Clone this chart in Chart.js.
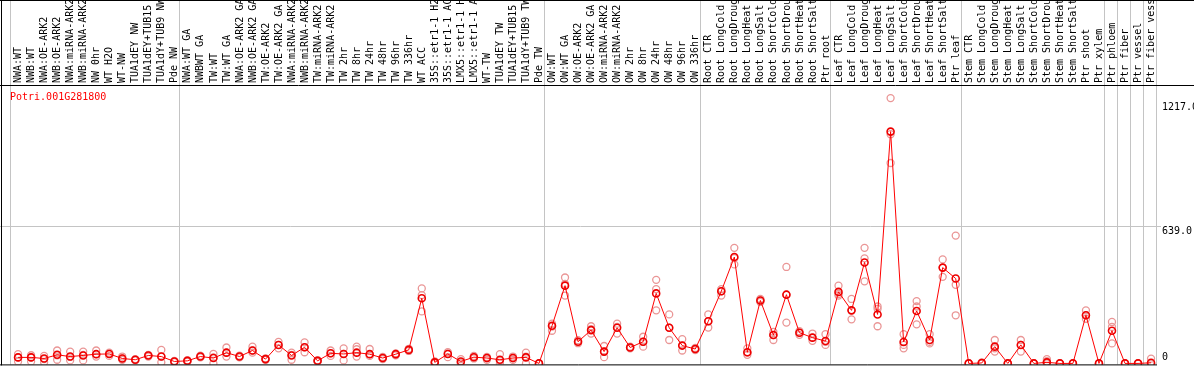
<!DOCTYPE html>
<html>
<head>
<meta charset="utf-8">
<script src="https://cdn.jsdelivr.net/npm/chart.js@4.4.0/dist/chart.umd.min.js"></script>
<style>
  html, body { margin: 0; padding: 0; background: #fff; }
  canvas { display: block; }
</style>
</head>
<body>
<canvas id="chart" width="1194" height="370"></canvas>
<script>
const geneId = 'Potri.001G281800';

const samples = [
  'NWA:WT', 'NWB:WT', 'NWA:OE-ARK2', 'NWB:OE-ARK2', 'NWA:miRNA-ARK2', 'NWB:miRNA-ARK2', 'NW 0hr',
  'WT H2O', 'WT-NW', 'TUA1dEY NW', 'TUA1dEY+TUB15', 'TUA1dY+TUB9 NW', 'Pde NW',
  'NWA:WT GA', 'NWBWT GA', 'TW:WT', 'TW:WT GA', 'NWA:OE-ARK2 GA', 'NWB:OE-ARK2 GA', 'TW:OE-ARK2',
  'TW:OE-ARK2 GA', 'NWA:miRNA-ARK2 GA', 'NWB:miRNA-ARK2 GA', 'TW:miRNA-ARK2', 'TW:miRNA-ARK2 GA',
  'TW 2hr', 'TW 8hr', 'TW 24hr', 'TW 48hr', 'TW 96hr', 'TW 336hr', 'WT ACC',
  '35S::etr1-1 H2O', '35S::etr1-1 ACC', 'LMX5::etr1-1 H2O', 'LMX5::etr1-1 ACC', 'WT-TW',
  'TUA1dEY TW', 'TUA1dEY+TUB15', 'TUA1dY+TUB9 TW', 'Pde TW',
  'OW:WT', 'OW:WT GA', 'OW:OE-ARK2', 'OW:OE-ARK2 GA', 'OW:miRNA-ARK2', 'OW:miRNA-ARK2 GA',
  'OW 2hr', 'OW 8hr', 'OW 24hr', 'OW 48hr', 'OW 96hr', 'OW 336hr',
  'Root CTR', 'Root LongCold', 'Root LongDrought', 'Root LongHeat', 'Root LongSalt',
  'Root ShortCold', 'Root ShortDrought', 'Root ShortHeat', 'Root ShortSalt', 'Ptr root',
  'Leaf CTR', 'Leaf LongCold', 'Leaf LongDrought', 'Leaf LongHeat', 'Leaf LongSalt',
  'Leaf ShortCold', 'Leaf ShortDrought', 'Leaf ShortHeat', 'Leaf ShortSalt', 'Ptr leaf',
  'Stem CTR', 'Stem LongCold', 'Stem LongDrought', 'Stem LongHeat', 'Stem LongSalt',
  'Stem ShortCold', 'Stem ShortDrought', 'Stem ShortHeat', 'Stem ShortSalt', 'Ptr shoot', 'Ptr xylem',
  'Ptr phloem', 'Ptr fiber', 'Ptr vessel', 'Ptr fiber vessel'
];

// where each group of samples starts (gray separators)
const groupStarts = [0, 13, 41, 53, 63, 73, 84, 85, 86, 87, 88];

const meanValues = [
  28, 28, 23, 40, 32, 37, 43, 44, 23, 17, 37, 32, 9,
  12, 32, 25, 50, 32, 60, 20, 86, 37, 75, 12, 47, 44, 50, 43, 25, 43, 63, 303, 5, 44, 9, 29, 25, 17, 25, 28, 0,
  175, 362, 101, 155, 55, 166, 74, 101, 326, 166, 83, 67,
  196, 336, 495, 52, 293, 132, 320, 143, 120, 104,
  333, 247, 470, 228, 1079, 100, 244, 109, 446, 395,
  0, 2, 78, 0, 86, 0, 5, 0, 0, 224, 0,
  152, 0, 0, 3
];
const rep1 = [
  43, 38, 35, 60, 55, 55, 60, 50, 32, 20, 40, 63, 12,
  15, 36, 44, 74, 36, 78, 23, 100, 50, 98, 15, 60, 70, 78, 67, 30, 47, 68, 349, 9, 52, 20, 35, 30, 43, 32, 50, 0,
  185, 400, 108, 173, 81, 185, 78, 124, 389, 228, 113, 72,
  228, 346, 538, 70, 300, 147, 449, 150, 139, 136,
  362, 300, 538, 265, 1235, 136, 290, 136, 484, 595,
  0, 5, 109, 0, 109, 0, 20, 0, 0, 247, 0,
  193, 0, 0, 22
];
const rep2 = [
  28, 28, 20, 38, 30, 40, 43, 44, 23, 17, 37, 32, 9,
  12, 32, 28, 50, 32, 60, 20, 86, 40, 75, 12, 47, 44, 66, 43, 25, 43, 63, 318, 5, 44, 5, 29, 25, 12, 25, 32, 0,
  171, 370, 101, 160, 55, 170, 74, 101, 346, 166, 83, 67,
  196, 336, 490, 50, 293, 132, 320, 143, 120, 100,
  323, 247, 489, 254, 1067, 86, 265, 100, 446, 366,
  0, 0, 70, 0, 86, 0, 10, 0, 0, 224, 0,
  170, 0, 0, 0
];
const rep3 = [
  9, 9, 5, 17, 14, 14, 32, 35, 17, 14, 32, 5, 6,
  8, 28, 0, 32, 28, 50, 17, 70, 17, 52, 8, 35, 14, 32, 35, 20, 38, 58, 242, 0, 29, 0, 23, 17, 0, 17, 0, 0,
  152, 316, 94, 139, 29, 139, 70, 78, 247, 109, 60, 62,
  167, 316, 461, 40, 286, 109, 190, 133, 105, 86,
  316, 205, 382, 173, 933, 70, 182, 93, 403, 224,
  0, 0, 55, 0, 55, 0, 0, 0, 0, 208, 0,
  93, 0, 0, 0
];

const axisTicks = [0, 639.0, 1217.0];

const pointOffset = 0.62;
const monoFont = '10px "DejaVu Sans Mono", "Liberation Mono", monospace';
const gridGray = '#c4c4c4';

function toPoints(values) {
  return values.map((v, i) => ({ x: i + pointOffset, y: v }));
}

function repDataset(values) {
  return {
    data: toPoints(values),
    showLine: false,
    pointStyle: 'circle',
    pointRadius: 3.5,
    pointBorderWidth: 1.3,
    pointBorderColor: 'rgb(234,150,150)',
    pointBackgroundColor: 'rgba(0,0,0,0)'
  };
}

// grid, frame, header labels, right-hand value labels, gene id
const framePlugin = {
  id: 'frame',
  beforeDatasetsDraw(chart) {
    const { ctx, scales: { x, y } } = chart;
    const bottom = chart.chartArea.bottom;
    ctx.save();
    ctx.strokeStyle = gridGray;
    ctx.lineWidth = 1;
    groupStarts.forEach(k => {
      const px = Math.round(x.getPixelForValue(k)) + 0.5;
      ctx.beginPath();
      ctx.moveTo(px, 0);
      ctx.lineTo(px, bottom);
      ctx.stroke();
    });
    const midY = Math.round(y.getPixelForValue(axisTicks[1])) + 0.5;
    ctx.beginPath();
    ctx.moveTo(0, midY);
    ctx.lineTo(1161, midY);
    ctx.stroke();
    ctx.restore();
  },
  afterDraw(chart) {
    const { ctx, scales: { x, y } } = chart;
    const area = chart.chartArea;
    ctx.save();

    // black frame lines
    ctx.strokeStyle = '#000';
    ctx.lineWidth = 1;
    ctx.beginPath();
    ctx.moveTo(0, 0.5); ctx.lineTo(1194, 0.5);
    ctx.moveTo(0, area.top + 0.5); ctx.lineTo(1194, area.top + 0.5);
    ctx.moveTo(0, area.bottom + 0.5); ctx.lineTo(1157, area.bottom + 0.5);
    ctx.moveTo(1.5, 0); ctx.lineTo(1.5, area.bottom + 1);
    ctx.stroke();

    // rotated sample names in the header
    ctx.save();
    ctx.beginPath();
    ctx.rect(2, 1, 1192, area.top - 1);
    ctx.clip();
    ctx.fillStyle = '#000';
    ctx.font = monoFont;
    ctx.textAlign = 'left';
    ctx.textBaseline = 'middle';
    samples.forEach((name, i) => {
      const px = x.getPixelForValue(i + pointOffset);
      ctx.save();
      ctx.translate(px + 0.5, area.top - 2);
      ctx.rotate(-Math.PI / 2);
      ctx.fillText(name, 0, 0);
      ctx.restore();
    });
    ctx.restore();

    // value labels on the right
    ctx.fillStyle = '#000';
    ctx.font = monoFont;
    ctx.textAlign = 'left';
    axisTicks.forEach(v => {
      const py = y.getPixelForValue(v);
      ctx.textBaseline = v === 0 ? 'bottom' : 'top';
      ctx.fillText(v === 0 ? '0' : v.toFixed(1), 1162, v === 0 ? py - 1 : py);
    });

    // gene id
    ctx.fillStyle = '#ff0000';
    ctx.textBaseline = 'top';
    ctx.fillText(geneId, 10, area.top + 7);
    ctx.restore();
  }
};

new Chart(document.getElementById('chart'), {
  type: 'line',
  data: {
    datasets: [
      {
        data: toPoints(meanValues),
        borderColor: '#ff0000',
        borderWidth: 1,
        tension: 0,
        pointStyle: 'circle',
        pointRadius: 3.5,
        pointBorderWidth: 1.6,
        pointBorderColor: '#ee0000',
        pointBackgroundColor: 'rgba(0,0,0,0)'
      },
      repDataset(rep1),
      repDataset(rep2),
      repDataset(rep3)
    ]
  },
  options: {
    responsive: false,
    animation: false,
    layout: { padding: { left: 10, right: 38, top: 85, bottom: 2 } },
    plugins: {
      legend: { display: false },
      tooltip: { enabled: false },
      title: { display: false }
    },
    scales: {
      x: { type: 'linear', display: false, min: 0, max: samples.length },
      y: { type: 'linear', display: false, min: -4.6, max: 1296 }
    }
  },
  plugins: [framePlugin]
});
</script>
</body>
</html>
